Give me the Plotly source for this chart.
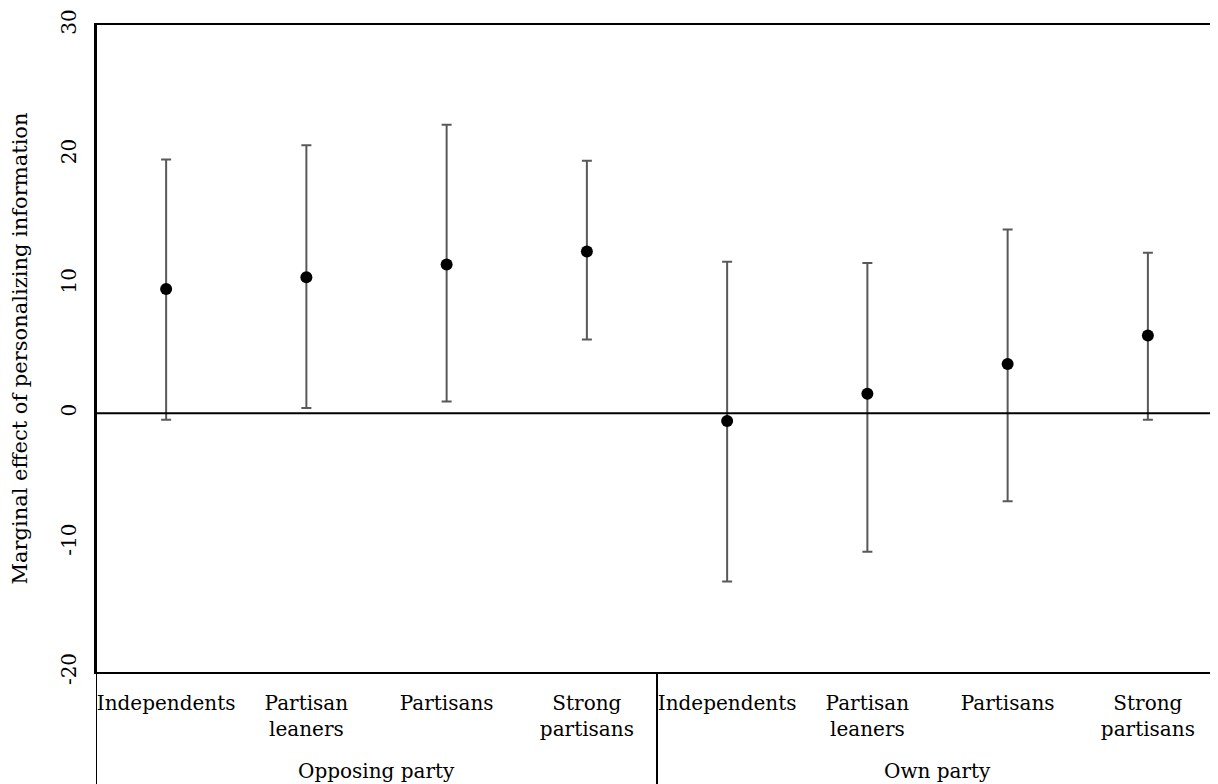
import plotly.graph_objects as go

groups = ["Opposing party", "Own party"]
categories = ["Independents", "Partisan<br>leaners", "Partisans", "Strong<br>partisans"]
opposing_est = [9.6, 10.5, 11.5, 12.5]
opposing_hi = [19.6, 20.7, 22.3, 19.5]
opposing_lo = [-0.5, 0.4, 0.9, 5.7]
own_est = [-0.6, 1.5, 3.8, 6.0]
own_hi = [11.7, 11.6, 14.2, 12.4]
own_lo = [-13.0, -10.7, -6.8, -0.5]
y_ticks = [-20, -10, 0, 10, 20, 30]
y_ticktext = ["-20", "-10", "0", "10", "20", "30"]

est = opposing_est + own_est
hi = opposing_hi + own_hi
lo = opposing_lo + own_lo
xpos = [i + 0.5 for i in range(len(est))]
ticktext = categories + categories

FONT = "DejaVu Serif"
FS = 20

fig = go.Figure()
fig.add_trace(go.Scatter(
    x=xpos, y=est, mode="markers",
    marker=dict(color="black", size=12),
    error_y=dict(type="data", symmetric=False,
                 array=[h - e for h, e in zip(hi, est)],
                 arrayminus=[e - l for e, l in zip(est, lo)],
                 color="#595959", thickness=2, width=5),
    showlegend=False, cliponaxis=False,
))

fig.add_hline(y=0, line=dict(color="black", width=2))

fig.add_shape(type="line", xref="x", yref="paper", x0=0, x1=0, y0=1, y1=-0.2,
              line=dict(color="black", width=2))
fig.add_shape(type="line", xref="x", yref="paper", x0=4, x1=4, y0=0, y1=-0.2,
              line=dict(color="black", width=2))

for gi, g in enumerate(groups):
    fig.add_annotation(x=2 + 4 * gi, y=0, xref="x", yref="paper",
                       text=g, showarrow=False, yanchor="middle", yshift=-99,
                       font=dict(family=FONT, size=FS, color="black"))

fig.update_layout(
    width=1210, height=776,
    margin=dict(l=88, r=0, t=17, b=112),
    plot_bgcolor="white", paper_bgcolor="white",
    font=dict(family=FONT, size=FS, color="black"),
    xaxis=dict(range=[0, 8], tickmode="array", tickvals=xpos, ticktext=ticktext,
               showgrid=False, zeroline=False, showline=True, mirror=True,
               linecolor="black", linewidth=2, ticks="", tickangle=0,
               ticklabelstandoff=12,
               tickfont=dict(family=FONT, size=FS, color="black")),
    yaxis=dict(range=[-20, 30], tickmode="array", tickvals=y_ticks, ticktext=y_ticktext,
               showgrid=False, zeroline=False,
               showline=True, linecolor="black", linewidth=2, ticks="",
               tickangle=-90, ticklabelstandoff=10,
               tickfont=dict(family=FONT, size=FS, color="black"),
               title=dict(text="Marginal effect of personalizing information",
                          font=dict(family=FONT, size=21, color="black"), standoff=24)),
)

fig.write_html("out.html")
